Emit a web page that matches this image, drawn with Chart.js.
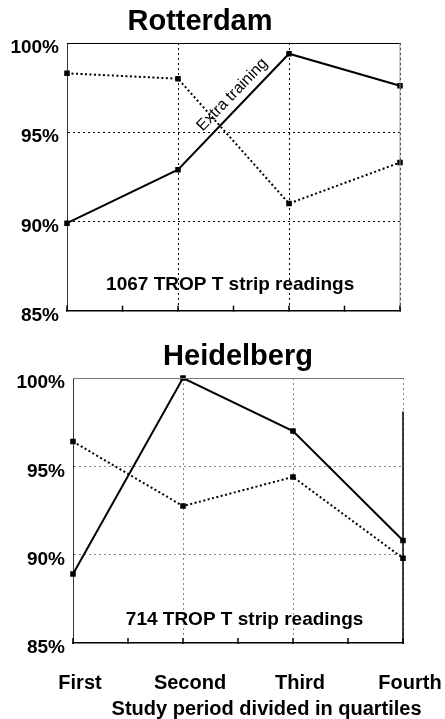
<!DOCTYPE html>
<html>
<head>
<meta charset="utf-8">
<script src="https://cdn.jsdelivr.net/npm/chart.js@4"></script>
<style>
html, body { margin: 0; padding: 0; background: #fff; }
#wrap { position: relative; width: 445px; height: 719px; }
canvas { position: absolute; left: 0; }
</style>
</head>
<body>
<div id="wrap">
  <canvas id="rotterdam" width="445" height="330" style="top:0"></canvas>
  <canvas id="heidelberg" width="445" height="389" style="top:330px"></canvas>
</div>
<script>
// data (percent)
const quartiles = ["First", "Second", "Third", "Fourth"];
const yTicks = [85, 90, 95, 100];
const rotterdamSolid = [89.9, 92.9, 99.4, 97.6];
const rotterdamDotted = [98.3, 98.0, 91.0, 93.3];
const heidelbergSolid = [88.9, 100, 97.0, 90.8];
const heidelbergDotted = [96.4, 92.75, 94.4, 89.8];

const FONT = "'Liberation Sans', Arial, Helvetica, sans-serif";

// frame bits, inward tick marks, notes and axis title
const extras = {
    id: 'extras',
    afterDraw(chart, args, o) {
        const ctx = chart.ctx;
        const a = chart.chartArea;
        const x = chart.scales.x, y = chart.scales.y;
        ctx.save();
        ctx.lineWidth = 1;
        ctx.strokeStyle = o.topColor;
        ctx.beginPath();
        ctx.moveTo(a.left, a.top + 0.5);
        ctx.lineTo(a.right, a.top + 0.5);
        ctx.stroke();
        ctx.lineWidth = o.rightWidth;
        ctx.strokeStyle = o.rightColor;
        ctx.beginPath();
        ctx.moveTo(a.right, y.getPixelForValue(o.rightFrom));
        ctx.lineTo(a.right, a.bottom);
        ctx.stroke();

        // tick marks pointing up into the plot
        ctx.strokeStyle = '#000';
        ctx.lineWidth = 1.5;
        x.ticks.forEach(t => {
            const px = x.getPixelForValue(t.value);
            ctx.beginPath();
            ctx.moveTo(px, a.bottom + 1);
            ctx.lineTo(px, a.bottom - 5);
            ctx.stroke();
        });

        ctx.fillStyle = '#000';
        ctx.textAlign = 'center';
        ctx.textBaseline = 'middle';
        ctx.font = 'bold 19px ' + FONT;
        ctx.fillText(o.note, x.getPixelForValue(o.noteAt[0]), y.getPixelForValue(o.noteAt[1]));

        if (o.label) {
            ctx.save();
            ctx.translate(x.getPixelForValue(o.labelAt[0]), y.getPixelForValue(o.labelAt[1]));
            ctx.rotate(-46 * Math.PI / 180);
            ctx.font = '16px ' + FONT;
            ctx.fillText(o.label, 0, 0);
            ctx.restore();
        }
        if (o.axisTitle) {
            ctx.font = 'bold 20px ' + FONT;
            ctx.fillText(o.axisTitle, x.getPixelForValue(o.axisTitleX), a.bottom + 66);
        }
        ctx.restore();
    }
};

function makeChart(id, cfg) {
    const ctx = document.getElementById(id).getContext("2d");
    return new Chart(ctx, {
        type: 'line',
        data: {
            datasets: [{
                data: cfg.solid.map((v, i) => ({x: i, y: v})),
                borderColor: '#000',
                backgroundColor: '#000',
                borderWidth: 2,
                pointStyle: 'rect',
                pointRadius: 2.5,
                clip: false
            }, {
                data: cfg.dotted.map((v, i) => ({x: i, y: v})),
                borderColor: '#000',
                backgroundColor: '#000',
                borderWidth: 2,
                borderDash: [2, 2.5],
                pointStyle: 'rect',
                pointRadius: 2.5,
                clip: false
            }]
        },
        options: {
            responsive: false,
            animation: false,
            layout: { padding: { left: 0, right: cfg.padRight, top: 0, bottom: 0 } },
            plugins: {
                legend: { display: false },
                tooltip: { enabled: false },
                title: {
                    display: true,
                    text: cfg.title,
                    color: '#000',
                    fullSize: cfg.titleFull,
                    font: { family: FONT, size: 29, weight: 'bold' },
                    padding: { top: cfg.titleTop, bottom: 43 - 34.8 - cfg.titleTop + cfg.extraTop }
                },
                extras: cfg.extras
            },
            scales: {
                x: {
                    type: 'linear',
                    min: 0,
                    max: 3,
                    afterFit: s => { s.height = cfg.xHeight; },
                    ticks: {
                        stepSize: 0.5,
                        autoSkip: false,
                        maxRotation: 0,
                        color: '#000',
                        padding: 0,
                        labelOffset: 7,
                        font: { family: FONT, size: 20, weight: 'bold' },
                        callback: v => (cfg.showX && Number.isInteger(v)) ? quartiles[v] : ''
                    },
                    grid: {
                        color: c => (c.tick && Number.isInteger(c.tick.value) && c.tick.value > 0) ? cfg.gridColor : 'rgba(0,0,0,0)',
                        lineWidth: 1,
                        tickLength: 28,
                        tickColor: 'rgba(0,0,0,0)'
                    },
                    border: { color: '#000', width: 1.5, dash: [2, 3] }
                },
                y: {
                    min: 85,
                    max: 100,
                    afterFit: s => { s.width = cfg.yWidth; },
                    afterBuildTicks: s => { s.ticks = yTicks.map(v => ({value: v})); },
                    ticks: {
                        color: '#000',
                        padding: 8,
                        labelOffset: 5,
                        font: { family: FONT, size: 19, weight: 'bold' },
                        callback: v => v + '%'
                    },
                    grid: {
                        drawTicks: false,
                        color: c => (c.tick && (c.tick.value === 90 || c.tick.value === 95)) ? cfg.gridColor : 'rgba(0,0,0,0)',
                        lineWidth: 1
                    },
                    border: { color: '#333', width: 1, dash: [2, 3] }
                }
            }
        },
        plugins: [extras]
    });
}

makeChart("rotterdam", {
    title: "Rotterdam",
    titleFull: true,
    titleTop: 5,
    extraTop: 0,
    solid: rotterdamSolid,
    dotted: rotterdamDotted,
    padRight: 45,
    xHeight: 17,
    yWidth: 67,
    showX: false,
    gridColor: '#000',
    extras: {
        topColor: '#000', rightColor: '#999', rightWidth: 1, rightFrom: 100,
        note: "1067 TROP T strip readings", noteAt: [1.47, 86.45],
        label: "Extra training", labelAt: [1.49, 97.1]
    }
});

makeChart("heidelberg", {
    title: "Heidelberg",
    titleFull: false,
    titleTop: 10,
    extraTop: 5,
    solid: heidelbergSolid,
    dotted: heidelbergDotted,
    padRight: 42,
    xHeight: 76,
    yWidth: 73,
    showX: true,
    gridColor: '#888',
    extras: {
        topColor: '#777', rightColor: '#000', rightWidth: 1.5, rightFrom: 98.1,
        note: "714 TROP T strip readings", noteAt: [1.56, 86.3],
        axisTitle: "Study period divided in quartiles", axisTitleX: 1.76
    }
});
</script>
</body>
</html>
